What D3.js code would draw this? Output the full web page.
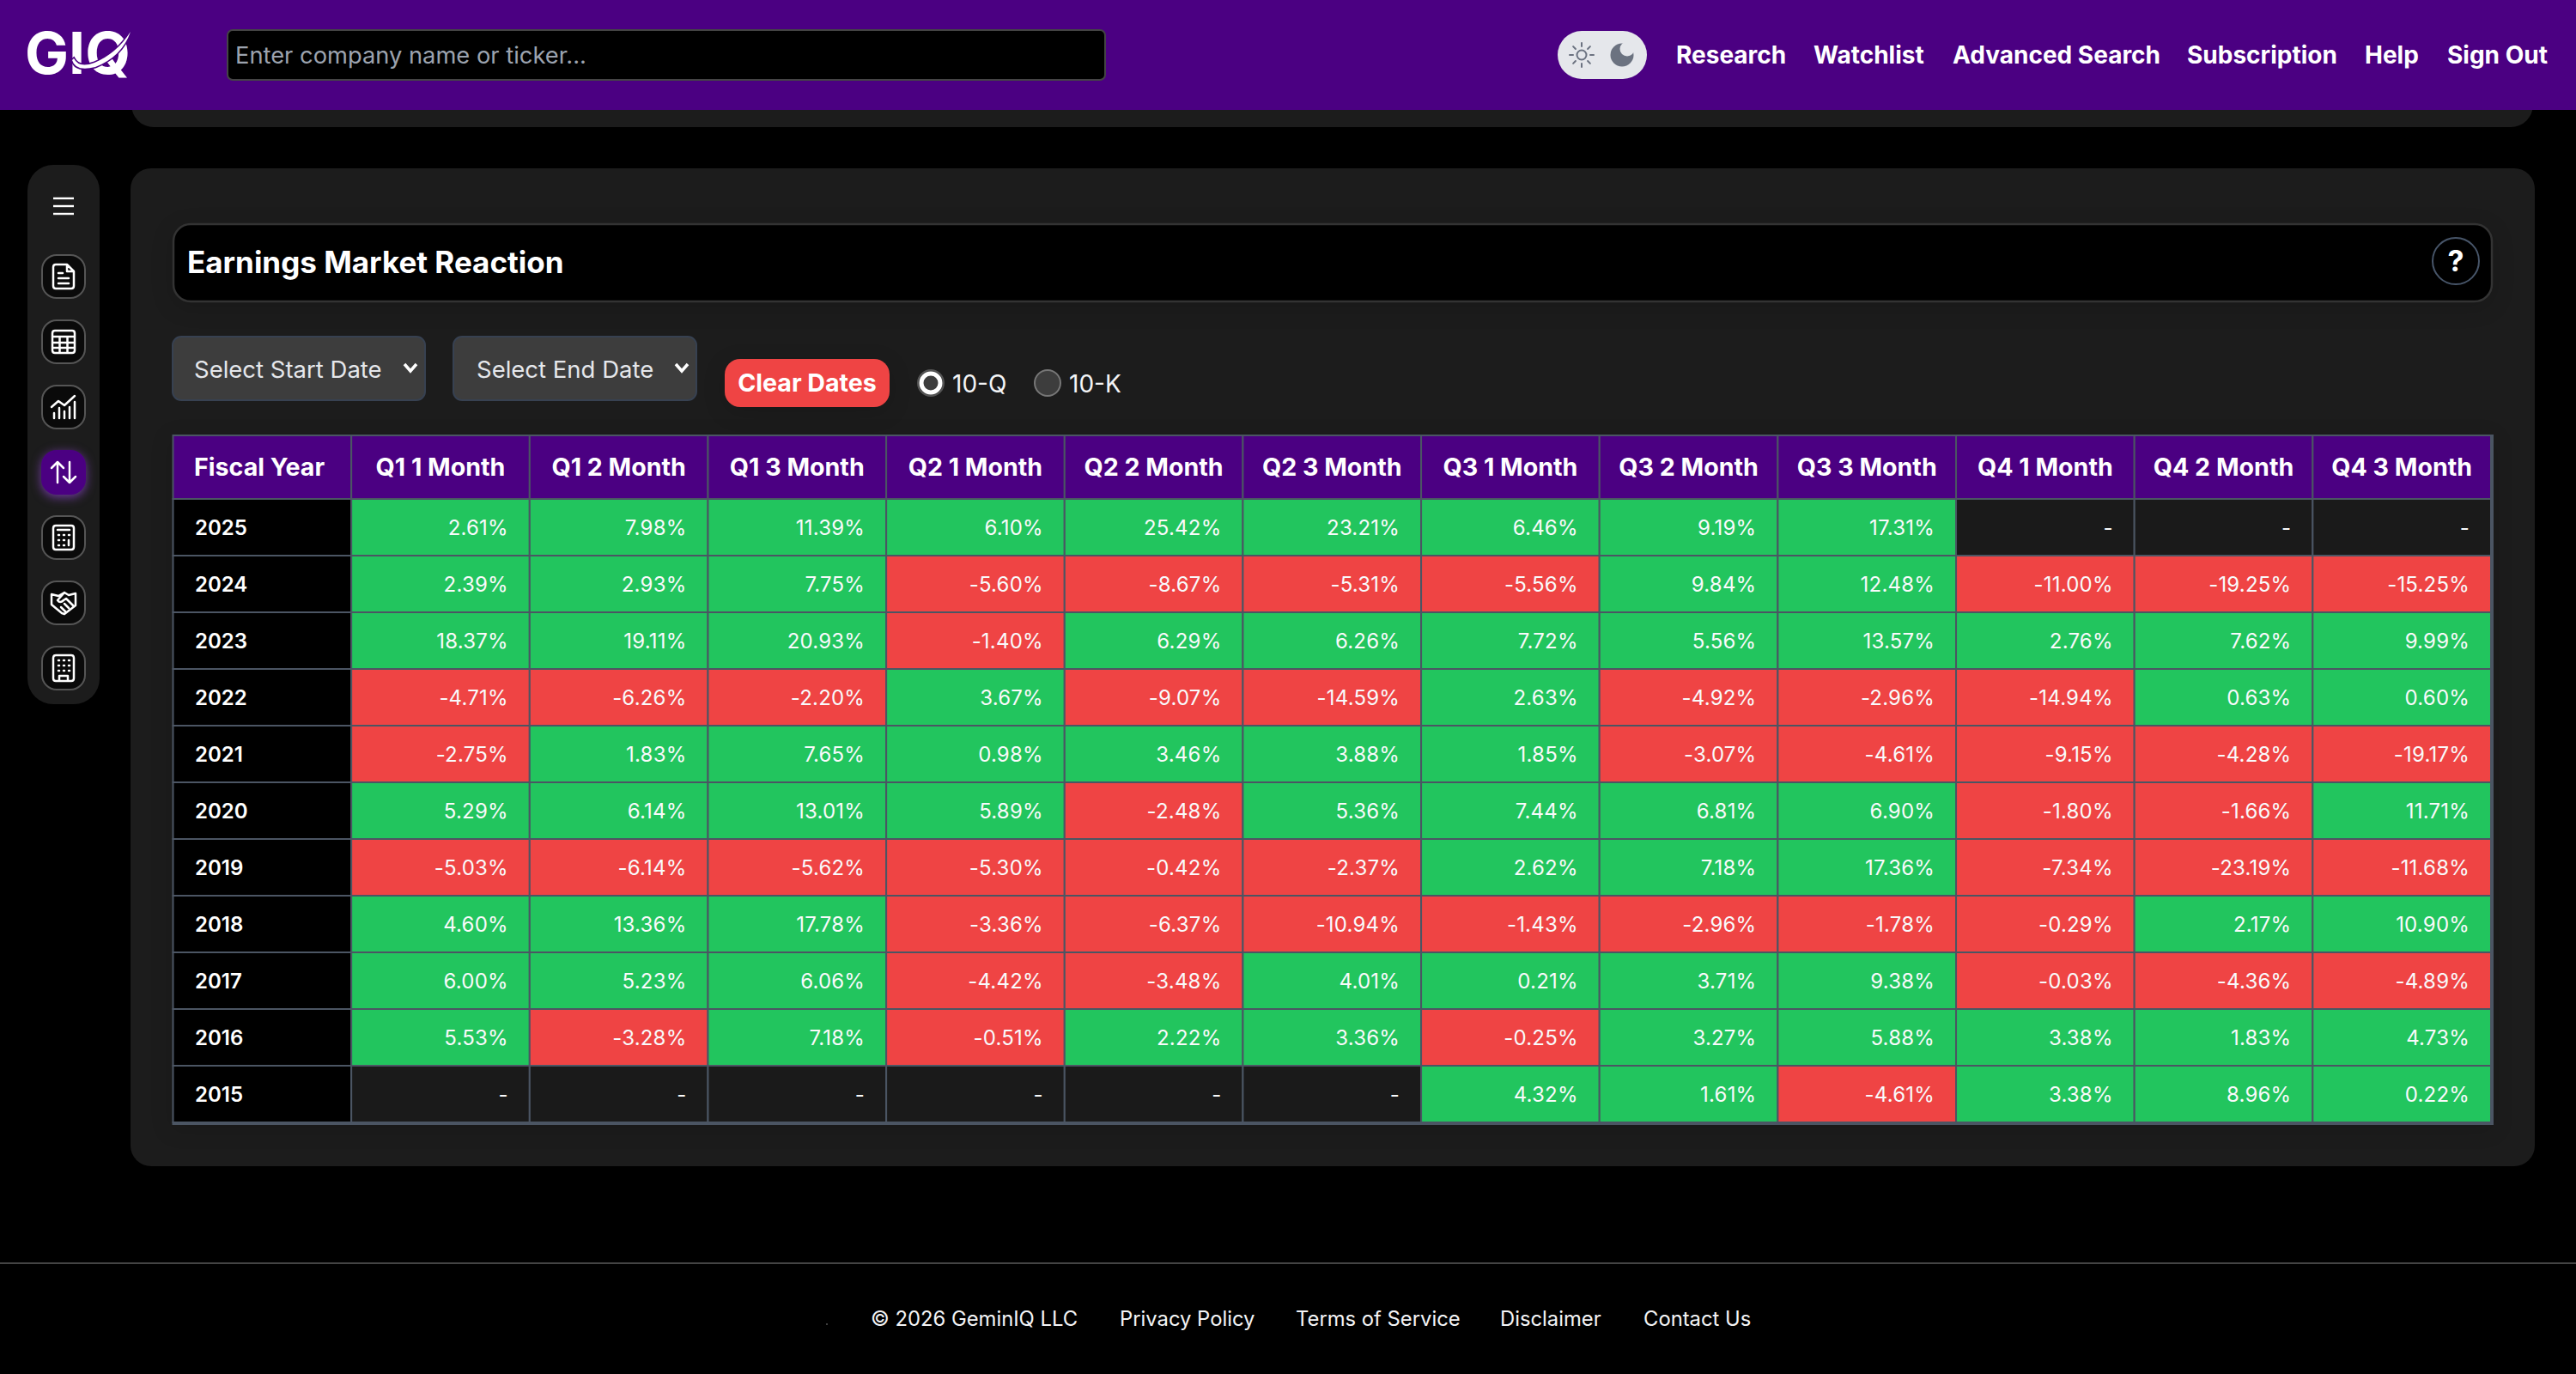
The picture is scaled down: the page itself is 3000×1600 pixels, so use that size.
<!DOCTYPE html>
<html>
<head>
<meta charset="utf-8">
<title>Earnings Market Reaction</title>
<script src="https://cdn.jsdelivr.net/npm/d3@7"></script>
<style>
  html, body { margin: 0; padding: 0; background: #000; }
  svg { display: block; font-family: Inter, "Noto Sans", sans-serif; }
  .soft { filter: drop-shadow(0 6px 12px rgba(0,0,0,0.14)); }
  .glow { filter: drop-shadow(0 3px 6px rgba(139,70,200,0.75)); }
  .icon { fill: none; stroke: #fff; stroke-width: 2.5; stroke-linecap: round; stroke-linejoin: round; }
</style>
</head>
<body>
<div id="chart"></div>
<script>
// table values (null = no data, shown as "-")
var columns = ["Fiscal Year", "Q1 1 Month", "Q1 2 Month", "Q1 3 Month", "Q2 1 Month", "Q2 2 Month", "Q2 3 Month",
  "Q3 1 Month", "Q3 2 Month", "Q3 3 Month", "Q4 1 Month", "Q4 2 Month", "Q4 3 Month"];
var years = ["2025", "2024", "2023", "2022", "2021", "2020", "2019", "2018", "2017", "2016", "2015"];

var fy2025 = [2.61, 7.98, 11.39, 6.10, 25.42, 23.21, 6.46, 9.19, 17.31, null, null, null];
var fy2024 = [2.39, 2.93, 7.75, -5.60, -8.67, -5.31, -5.56, 9.84, 12.48, -11.00, -19.25, -15.25];
var fy2023 = [18.37, 19.11, 20.93, -1.40, 6.29, 6.26, 7.72, 5.56, 13.57, 2.76, 7.62, 9.99];
var fy2022 = [-4.71, -6.26, -2.20, 3.67, -9.07, -14.59, 2.63, -4.92, -2.96, -14.94, 0.63, 0.60];
var fy2021 = [-2.75, 1.83, 7.65, 0.98, 3.46, 3.88, 1.85, -3.07, -4.61, -9.15, -4.28, -19.17];
var fy2020 = [5.29, 6.14, 13.01, 5.89, -2.48, 5.36, 7.44, 6.81, 6.90, -1.80, -1.66, 11.71];
var fy2019 = [-5.03, -6.14, -5.62, -5.30, -0.42, -2.37, 2.62, 7.18, 17.36, -7.34, -23.19, -11.68];
var fy2018 = [4.60, 13.36, 17.78, -3.36, -6.37, -10.94, -1.43, -2.96, -1.78, -0.29, 2.17, 10.90];
var fy2017 = [6.00, 5.23, 6.06, -4.42, -3.48, 4.01, 0.21, 3.71, 9.38, -0.03, -4.36, -4.89];
var fy2016 = [5.53, -3.28, 7.18, -0.51, 2.22, 3.36, -0.25, 3.27, 5.88, 3.38, 1.83, 4.73];
var fy2015 = [null, null, null, null, null, null, 4.32, 1.61, -4.61, 3.38, 8.96, 0.22];

var navLinks = ["Research", "Watchlist", "Advanced Search", "Subscription", "Help", "Sign Out"];
var navX = [1952, 2112, 2274, 2547, 2754, 2850];
var footerLinks = ["© 2026 GeminIQ LLC", "Privacy Policy", "Terms of Service", "Disclaimer", "Contact Us"];
var footerX = [1014, 1304, 1509, 1747, 1914];

var indigo = "#4b0082", green = "#22c55e", red = "#ef4444", gridColor = "#4b5563", cardColor = "#1c1c1c";

var svg = d3.select("#chart").append("svg")
    .attr("width", 3000)
    .attr("height", 1600);

svg.append("rect").attr("width", 3000).attr("height", 1600).attr("fill", "#000");

// cards behind everything
svg.append("rect").attr("x", 153).attr("y", -60).attr("width", 2797).attr("height", 208).attr("rx", 26).attr("fill", cardColor);
svg.append("rect").attr("x", 152).attr("y", 196).attr("width", 2800).attr("height", 1162).attr("rx", 24).attr("fill", cardColor);

// top bar
svg.append("rect").attr("width", 3000).attr("height", 128).attr("fill", indigo);

// logo
var logo = svg.append("g").attr("fill", "#fff");
logo.append("text").attr("x", 29).attr("y", 86).attr("font-size", 68).attr("font-weight", 700)
    .text("GIQ");
logo.append("path")
    .attr("d", "M84,70 Q88,84 111,78 Q142,66 152,37 Q136,62 110,73 Q92,80 86,68 Z")
    .attr("stroke", indigo).attr("stroke-width", 3).attr("paint-order", "stroke");

// search box
svg.append("rect").attr("x", 265).attr("y", 35).attr("width", 1022).attr("height", 58).attr("rx", 6)
    .attr("fill", "#000").attr("stroke", "#444").attr("stroke-width", 2);
svg.append("text").attr("x", 274).attr("y", 74).attr("font-size", 27.3).attr("fill", "#9ca3af")
    .text("Enter company name or ticker...");

// theme toggle
svg.append("rect").attr("x", 1814).attr("y", 36).attr("width", 104).attr("height", 56).attr("rx", 28).attr("fill", "#e5e7eb");
var sun = svg.append("g").attr("transform", "translate(1842,64)");
sun.append("circle").attr("r", 5.5).attr("fill", "none").attr("stroke", "#6b7280").attr("stroke-width", 2);
d3.range(8).forEach(function(i) {
  sun.append("line").attr("x1", 10).attr("x2", 14).attr("transform", "rotate(" + i * 45 + ")")
      .attr("stroke", "#6b7280").attr("stroke-width", 2).attr("stroke-linecap", "round");
});
svg.append("circle").attr("cx", 1889).attr("cy", 64).attr("r", 13.5).attr("fill", "#6b7280");
svg.append("circle").attr("cx", 1895).attr("cy", 57).attr("r", 8.5).attr("fill", "#e5e7eb");

svg.selectAll(".nav").data(navLinks).enter().append("text")
    .attr("class", "nav")
    .attr("x", function(d, i) { return navX[i]; })
    .attr("y", 74)
    .attr("font-size", 28)
    .attr("font-weight", 650)
    .attr("fill", "#fff")
    .text(function(d) { return d; });

// sidebar
svg.append("rect").attr("x", 32).attr("y", 192).attr("width", 84).attr("height", 628).attr("rx", 30).attr("fill", cardColor);
[231, 240, 249].forEach(function(y) {
  svg.append("line").attr("x1", 62).attr("x2", 86).attr("y1", y).attr("y2", y)
      .attr("stroke", "#fff").attr("stroke-width", 2.4);
});

var iconPaths = [
  // document
  "M-9,-14 H4 L12,-6 V11 Q12,14 9,14 H-9 Q-12,14 -12,11 V-11 Q-12,-14 -9,-14 Z M4,-14 V-6 H12 M-6,-4 H-1 M-6,2 H6 M-6,8 H6",
  // table
  "M-10,-13 H10 Q13,-13 13,-10 V10 Q13,13 10,13 H-10 Q-13,13 -13,10 V-10 Q-13,-13 -10,-13 Z M-13,-6 H13 M-13,1 H13 M-13,7 H13 M-4.5,-6 V13 M4.5,-6 V13",
  // chart
  "M-14,0 L-6,-7 L1,-2 L13,-13 M-11,13 V7 M-5,13 V1 M1,13 V5 M7,13 V0 M13,13 V-6",
  // arrows
  "M-7,12 V-12 M-14,-5 L-7,-12 L0,-5 M7,-12 V12 M0,5 L7,12 L14,5",
  // calculator
  "M-9,-14 H9 Q12,-14 12,-11 V11 Q12,14 9,14 H-9 Q-12,14 -12,11 V-11 Q-12,-14 -9,-14 Z M-7,-9 H7 M-6,-3 H-5 M0,-3 H1 M6,-3 H7 M-6,3 H-5 M0,3 H1 M6,3 V9 M-6,9 H-5 M0,9 H1",
  // handshake
  "M-14,-10 L-6,-8 L1,-12 L6,-9 L14,-11 V3 L1,13 L-2,12 L-14,2 Z M1,-12 L-7,-3 Q-4,1 0,-3 L3,-5 L11,3 M6,6 L1,1 M2,10 L-3,5",
  // building
  "M-9,-15 H9 Q12,-15 12,-12 V12 Q12,15 9,15 H-9 Q-12,15 -12,12 V-12 Q-12,-15 -9,-15 Z M-6,-9 H-5 M0,-9 H1 M6,-9 H7 M-6,-3 H-5 M0,-3 H1 M6,-3 H7 M-6,3 H-5 M0,3 H1 M6,3 H7 M-5,15 V9 H5 V15"
];
var activeIcon = 3;

iconPaths.forEach(function(p, i) {
  var cy = 322 + i * 76;
  var btn = svg.append("g").attr("transform", "translate(74," + cy + ")");
  btn.append("rect").attr("x", -25).attr("y", -25).attr("width", 50).attr("height", 50).attr("rx", 17)
      .attr("class", i === activeIcon ? "glow" : null)
      .attr("fill", i === activeIcon ? indigo : "#0a0a0a")
      .attr("stroke", i === activeIcon ? indigo : "#555")
      .attr("stroke-width", 2);
  btn.append("path").attr("class", "icon").attr("d", p);
});

// title bar
svg.append("rect").attr("class", "soft").attr("x", 202).attr("y", 261).attr("width", 2700).attr("height", 90).attr("rx", 20)
    .attr("fill", "#000").attr("stroke", "#333").attr("stroke-width", 2.5);
svg.append("text").attr("x", 218).attr("y", 318).attr("font-size", 35).attr("font-weight", 700).attr("fill", "#fff")
    .text("Earnings Market Reaction");
svg.append("circle").attr("cx", 2860).attr("cy", 304).attr("r", 27)
    .attr("fill", "#000").attr("stroke", "#475569").attr("stroke-width", 2);
svg.append("text").attr("x", 2860).attr("y", 316).attr("text-anchor", "middle").attr("font-size", 34).attr("font-weight", 700)
    .attr("fill", "#fff").text("?");

// date selects
[{ x: 201, w: 294, tx: 226, label: "Select Start Date" }, { x: 528, w: 283, tx: 555, label: "Select End Date" }].forEach(function(s) {
  svg.append("rect").attr("x", s.x).attr("y", 392).attr("width", s.w).attr("height", 74).attr("rx", 10)
      .attr("fill", "#3d3d3d").attr("stroke", "#374151").attr("stroke-width", 2);
  svg.append("text").attr("x", s.tx).attr("y", 440).attr("font-size", 27.5).attr("fill", "#e5e7eb").text(s.label);
  var cx = s.x + s.w - 17;
  svg.append("path").attr("d", "M" + (cx - 7) + ",424 L" + cx + ",432 L" + (cx + 7) + ",424")
      .attr("fill", "none").attr("stroke", "#fff").attr("stroke-width", 3.5);
});

// clear button
svg.append("rect").attr("class", "soft").attr("x", 844).attr("y", 418).attr("width", 192).attr("height", 56).attr("rx", 18).attr("fill", red);
svg.append("text").attr("x", 940).attr("y", 456).attr("text-anchor", "middle").attr("font-size", 28.6).attr("font-weight", 650)
    .attr("fill", "#fff").text("Clear Dates");

// radios
svg.append("circle").attr("cx", 1084).attr("cy", 446).attr("r", 15).attr("fill", "#3d3d3d").attr("stroke", "#555").attr("stroke-width", 2);
svg.append("circle").attr("cx", 1084).attr("cy", 446).attr("r", 11).attr("fill", "#3d3d3d").attr("stroke", "#fff").attr("stroke-width", 5);
svg.append("circle").attr("cx", 1220).attr("cy", 446).attr("r", 15).attr("fill", "#3d3d3d").attr("stroke", "#777").attr("stroke-width", 2);
svg.append("text").attr("x", 1109).attr("y", 457).attr("font-size", 28).attr("fill", "#f3f4f6").text("10-Q");
svg.append("text").attr("x", 1245).attr("y", 457).attr("font-size", 28).attr("fill", "#f3f4f6").text("10-K");

// ---- the table ----
var rows = [fy2025, fy2024, fy2023, fy2022, fy2021, fy2020, fy2019, fy2018, fy2017, fy2016, fy2015];
var cells = [];
rows.forEach(function(row, r) {
  row.forEach(function(value, c) {
    cells.push({ year: years[r], column: columns[c + 1], value: value });
  });
});

var xBand = d3.scaleBand().domain(columns).range([201.5, 2901]);
var yBand = d3.scaleBand().domain(years).range([581, 1307]);
var colorScale = d3.scaleThreshold().domain([0]).range([red, green]);

var tableGroup = svg.append("g").attr("class", "soft");

// header row
tableGroup.selectAll(".head").data(columns).enter().append("rect")
    .attr("class", "head")
    .attr("x", function(d) { return xBand(d); })
    .attr("y", 507)
    .attr("width", xBand.bandwidth())
    .attr("height", 74)
    .attr("fill", indigo)
    .attr("stroke", gridColor)
    .attr("stroke-width", 2);

// year column
tableGroup.selectAll(".yearCell").data(years).enter().append("rect")
    .attr("class", "yearCell")
    .attr("x", xBand("Fiscal Year"))
    .attr("y", function(d) { return yBand(d); })
    .attr("width", xBand.bandwidth())
    .attr("height", yBand.bandwidth())
    .attr("fill", "#000")
    .attr("stroke", gridColor)
    .attr("stroke-width", 2);

// value cells
tableGroup.selectAll(".cell").data(cells).enter().append("rect")
    .attr("class", "cell")
    .attr("x", function(d) { return xBand(d.column); })
    .attr("y", function(d) { return yBand(d.year); })
    .attr("width", xBand.bandwidth())
    .attr("height", yBand.bandwidth())
    .attr("fill", function(d) { return d.value === null ? "#1a1a1a" : colorScale(d.value); })
    .attr("stroke", gridColor)
    .attr("stroke-width", 2);

// heavier right and bottom edge
svg.append("line").attr("x1", 2902).attr("x2", 2902).attr("y1", 506).attr("y2", 1310).attr("stroke", gridColor).attr("stroke-width", 4);
svg.append("line").attr("x1", 200.5).attr("x2", 2904).attr("y1", 1308).attr("y2", 1308).attr("stroke", gridColor).attr("stroke-width", 4);

// toFixed keeps the plain hyphen the page uses for negatives
svg.selectAll(".cellText").data(cells).enter().append("text")
    .attr("class", "cellText")
    .attr("x", function(d) { return xBand(d.column) + xBand.bandwidth() - 25; })
    .attr("y", function(d) { return yBand(d.year) + yBand.bandwidth() / 2; })
    .attr("dy", "0.36em")
    .attr("text-anchor", "end")
    .attr("font-size", 24)
    .attr("letter-spacing", 0.2)
    .attr("fill", "#f9fafb")
    .text(function(d) { return d.value === null ? "-" : d.value.toFixed(2) + "%"; });

// column labels
var xAxis = d3.axisTop(xBand).tickSize(0);
var xAxisGroup = svg.append("g")
    .attr("transform", "translate(0,544)")
    .call(xAxis);
xAxisGroup.select(".domain").remove();
xAxisGroup.selectAll("text")
    .attr("y", 0)
    .attr("dy", "0.36em")
    .attr("fill", "#fff")
    .attr("font-family", "Inter")
    .attr("font-size", 28.6)
    .attr("font-weight", 650);
xAxisGroup.selectAll(".tick").filter(function(d) { return d === "Fiscal Year"; }).select("text")
    .attr("text-anchor", "start")
    .attr("x", 226 - xBand("Fiscal Year") - xBand.bandwidth() / 2);

// year labels
var yAxis = d3.axisLeft(yBand).tickSize(0);
var yAxisGroup = svg.append("g")
    .attr("transform", "translate(227,0)")
    .call(yAxis);
yAxisGroup.select(".domain").remove();
yAxisGroup.selectAll("text")
    .attr("x", 0)
    .attr("dy", "0.36em")
    .attr("text-anchor", "start")
    .attr("fill", "#fff")
    .attr("font-family", "Inter")
    .attr("font-size", 24)
    .attr("font-weight", 600);

// footer
svg.append("line").attr("x1", 0).attr("x2", 3000).attr("y1", 1471).attr("y2", 1471).attr("stroke", "#444").attr("stroke-width", 2);
svg.append("circle").attr("cx", 963).attr("cy", 1542).attr("r", 1).attr("fill", "#555");
svg.selectAll(".foot").data(footerLinks).enter().append("text")
    .attr("class", "foot")
    .attr("x", function(d, i) { return footerX[i]; })
    .attr("y", 1544)
    .attr("font-size", 23.8)
    .attr("fill", "#f3f4f6")
    .text(function(d) { return d; });
</script>
</body>
</html>
